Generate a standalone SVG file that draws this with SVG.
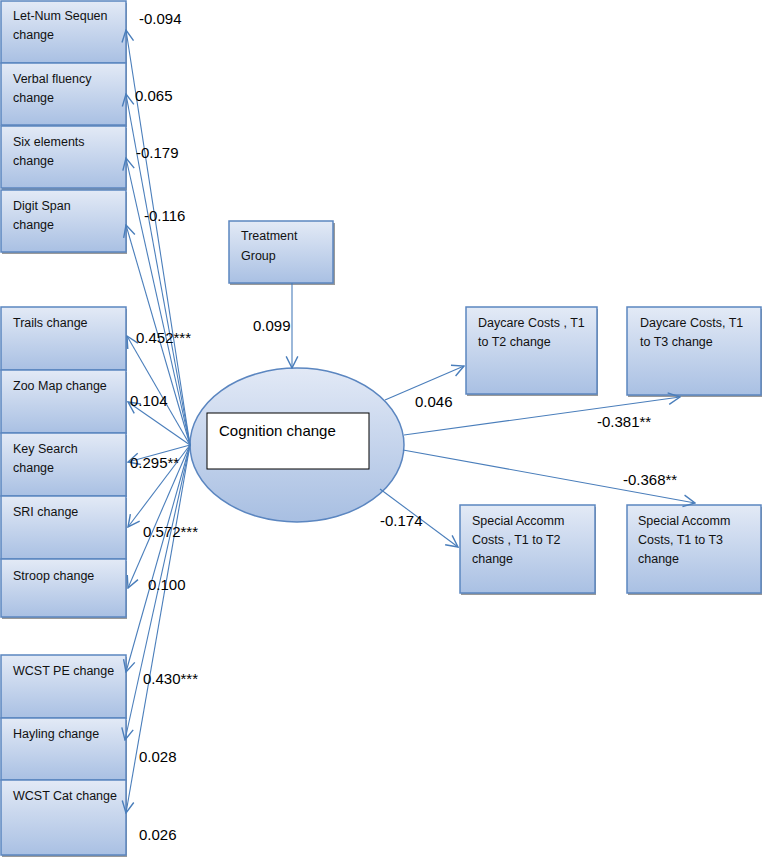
<svg xmlns="http://www.w3.org/2000/svg" width="762" height="858" viewBox="0 0 762 858">
<defs>
<linearGradient id="g" x1="0" y1="0" x2="0" y2="1">
<stop offset="0" stop-color="#e3eaf6"/>
<stop offset="1" stop-color="#a9c0e3"/>
</linearGradient>
<linearGradient id="ge" x1="0" y1="0" x2="0" y2="1">
<stop offset="0" stop-color="#e2e9f6"/>
<stop offset="1" stop-color="#a8bfe2"/>
</linearGradient>
<marker id="a" markerUnits="userSpaceOnUse" markerWidth="14" markerHeight="14" viewBox="0 0 12 12" refX="11" refY="6" orient="auto">
<path d="M1,1 L11,6 L1,11" fill="none" stroke="#4a7ebb" stroke-width="1.2"/>
</marker>
</defs>
<style>
.box{fill:url(#g);stroke:#5b86c0;stroke-width:1.5}
.sh{fill:#9a9a9a}
.t{font-family:"Liberation Sans",Arial,sans-serif;font-size:12.5px;fill:#111}
.l{font-family:"Liberation Sans",Arial,sans-serif;font-size:15px;fill:#000}
.c line{stroke:#4a7ebb;stroke-width:1.1;marker-end:url(#a)}
</style>
<rect width="762" height="858" fill="#fff"/>

<g id="letnum"><rect class="sh" x="2" y="3" width="125" height="62"/><rect class="box" x="1" y="1" width="125" height="62"/><text class="t" x="13" y="20">Let-Num Sequen</text><text class="t" x="13" y="39">change</text></g>
<g id="verbal"><rect class="sh" x="2" y="65" width="125" height="62"/><rect class="box" x="1" y="63" width="125" height="62"/><text class="t" x="13" y="83">Verbal fluency</text><text class="t" x="13" y="102">change</text></g>
<g id="six"><rect class="sh" x="2" y="128" width="125" height="62"/><rect class="box" x="1" y="126" width="125" height="62"/><text class="t" x="13" y="146">Six elements</text><text class="t" x="13" y="165">change</text></g>
<g id="digit"><rect class="sh" x="2" y="192" width="125" height="62"/><rect class="box" x="1" y="190" width="125" height="62"/><text class="t" x="13" y="210">Digit Span</text><text class="t" x="13" y="229">change</text></g>
<g id="trails"><rect class="sh" x="2" y="309" width="125" height="62"/><rect class="box" x="1" y="307" width="125" height="63"/><text class="t" x="13" y="327">Trails change</text></g>
<g id="zoo"><rect class="sh" x="2" y="372" width="125" height="62"/><rect class="box" x="1" y="370" width="125" height="63"/><text class="t" x="13" y="390">Zoo Map change</text></g>
<g id="key"><rect class="sh" x="2" y="435" width="125" height="62"/><rect class="box" x="1" y="433" width="125" height="63"/><text class="t" x="13" y="453">Key Search</text><text class="t" x="13" y="472">change</text></g>
<g id="sri"><rect class="sh" x="2" y="498" width="125" height="62"/><rect class="box" x="1" y="496" width="125" height="63"/><text class="t" x="13" y="516">SRI change</text></g>
<g id="stroop"><rect class="sh" x="2" y="561" width="125" height="58"/><rect class="box" x="1" y="559" width="125" height="58"/><text class="t" x="13" y="580">Stroop change</text></g>
<g id="wcstpe"><rect class="sh" x="2" y="657" width="125" height="62"/><rect class="box" x="1" y="655" width="125" height="63"/><text class="t" x="13" y="675">WCST PE change</text></g>
<g id="hayling"><rect class="sh" x="2" y="720" width="125" height="62"/><rect class="box" x="1" y="718" width="125" height="62"/><text class="t" x="13" y="738">Hayling change</text></g>
<g id="wcstcat"><rect class="sh" x="2" y="782" width="125" height="75"/><rect class="box" x="1" y="780" width="125" height="75"/><text class="t" x="13" y="800">WCST Cat change</text></g>

<g id="treatment"><rect class="sh" x="230" y="223" width="105" height="62"/><rect class="box" x="229" y="221" width="104" height="62"/><text class="t" x="241" y="240">Treatment</text><text class="t" x="241" y="260">Group</text></g>

<g id="daycare2"><rect class="sh" x="467" y="309" width="131" height="87"/><rect class="box" x="466" y="307" width="131" height="87"/><text class="t" x="478" y="327">Daycare Costs , T1</text><text class="t" x="478" y="346">to T2 change</text></g>
<g id="daycare3"><rect class="sh" x="628" y="309" width="134" height="88"/><rect class="box" x="627" y="307" width="134" height="88"/><text class="t" x="640" y="327">Daycare Costs, T1</text><text class="t" x="640" y="346">to T3 change</text></g>
<g id="special2"><rect class="sh" x="461" y="507" width="135" height="88"/><rect class="box" x="460" y="505" width="135" height="88"/><text class="t" x="472" y="525">Special Accomm</text><text class="t" x="472" y="544">Costs , T1 to T2</text><text class="t" x="472" y="563">change</text></g>
<g id="special3"><rect class="sh" x="628" y="507" width="134" height="88"/><rect class="box" x="627" y="505" width="134" height="88"/><text class="t" x="638" y="525">Special Accomm</text><text class="t" x="638" y="544">Costs, T1 to T3</text><text class="t" x="638" y="563">change</text></g>

<g id="cognition"><ellipse cx="297" cy="445" rx="107" ry="77" fill="url(#ge)" stroke="#5b86c0" stroke-width="1.5"/><rect x="207" y="413" width="162" height="56" fill="#fff" stroke="#000" stroke-width="1"/><text x="219" y="436" font-family="'Liberation Sans',Arial,sans-serif" font-size="15" fill="#000">Cognition change</text></g>

<g id="connectors" class="c">
<line x1="190" y1="445" x2="126" y2="30"/>
<line x1="190" y1="445" x2="126" y2="94"/>
<line x1="190" y1="445" x2="126" y2="158"/>
<line x1="190" y1="445" x2="126" y2="225"/>
<line x1="190" y1="445" x2="127" y2="336"/>
<line x1="190" y1="445" x2="128" y2="402"/>
<line x1="190" y1="445" x2="128" y2="462"/>
<line x1="190" y1="445" x2="128" y2="527"/>
<line x1="190" y1="445" x2="128" y2="588"/>
<line x1="190" y1="445" x2="126" y2="672"/>
<line x1="190" y1="445" x2="125" y2="740"/>
<line x1="190" y1="445" x2="126" y2="813"/>
<line x1="292" y1="283" x2="292" y2="368"/>
<line x1="385" y1="400" x2="464" y2="366"/>
<line x1="404" y1="435" x2="680" y2="397"/>
<line x1="403" y1="450" x2="695" y2="503"/>
<line x1="380" y1="489" x2="458" y2="547"/>
</g>

<g id="labels">
<text class="l" x="139" y="24">-0.094</text>
<text class="l" x="135" y="101">0.065</text>
<text class="l" x="136" y="158">-0.179</text>
<text class="l" x="144" y="221">-0.116</text>
<text class="l" x="136" y="343">0.452***</text>
<text class="l" x="130" y="406">0.104</text>
<text class="l" x="130" y="468">0.295**</text>
<text class="l" x="143" y="537">0.572***</text>
<text class="l" x="148" y="590">0.100</text>
<text class="l" x="143" y="684">0.430***</text>
<text class="l" x="139" y="762">0.028</text>
<text class="l" x="139" y="840">0.026</text>
<text class="l" x="253" y="331">0.099</text>
<text class="l" x="415" y="407">0.046</text>
<text class="l" x="597" y="427">-0.381**</text>
<text class="l" x="623" y="485">-0.368**</text>
<text class="l" x="380" y="526">-0.174</text>
</g>
</svg>
